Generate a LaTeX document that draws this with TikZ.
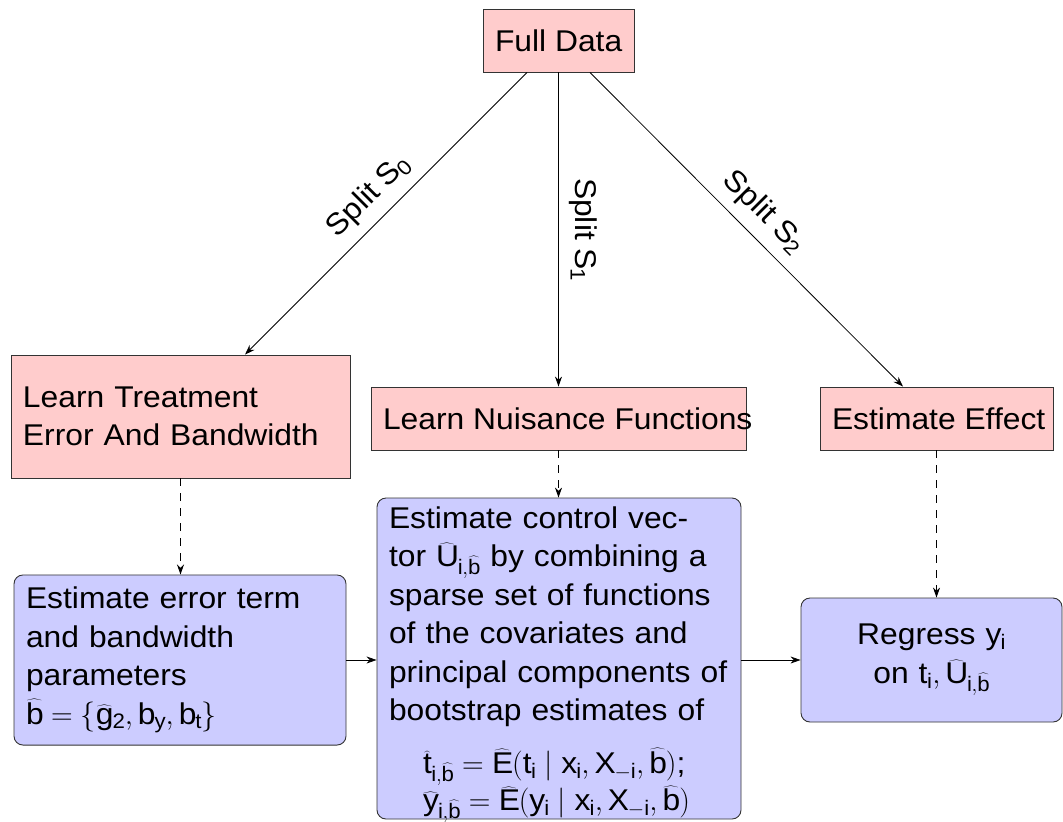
\RequirePackage{fix-cm}
\documentclass[tikz,border=0pt]{standalone}
\usepackage{fontspec}
\setmainfont{Liberation Sans}[FakeStretch=1.06]
\setmathrm{Liberation Sans}[FakeStretch=1.06]
\usetikzlibrary{arrows.meta}

% upright letters in formulas, and the hat over them
\newcommand\rv[1]{\mathrm{#1}}
\newcommand\hv[1]{\widehat{\rv{#1}}}
\newcommand\bigfont{\fontsize{30}{38.5}\selectfont}
% one line of text, left aligned in a box of fixed width
\newcommand\oneline[2]{\makebox[#1][l]{#2}}

\tikzset{
  box/.style={rectangle, draw=black!80, line width=0.9pt, inner sep=12pt,
    font=\bigfont, align=left},
  pinkbox/.style={box, fill=red!20},
  bluebox/.style={box, fill=blue!20, rounded corners=9pt},
  arr/.style={-{Stealth[length=10pt,width=7pt]}, line width=0.8pt},
  dasharr/.style={arr, dash pattern=on 8pt off 7pt},
  lbl/.style={font=\bigfont, inner sep=10pt, sloped, above}
}

\begin{document}
\begin{tikzpicture}[x=1pt, y=-1pt]
\useasboundingbox (0,0) rectangle (1063,822);

% top row
\node[pinkbox, minimum height=63pt]
  (fd) at (558.5,40.5) {\oneline{127pt}{Full Data}};

% middle row
\node[pinkbox, text width=315pt, minimum width=339pt, minimum height=123pt]
  (lt) at (180.5,416.5) {Learn Treatment\\Error And Bandwidth};
\node[pinkbox, minimum height=63pt]
  (ln) at (558.5,418.5) {\oneline{351pt}{Learn Nuisance Functions}};
\node[pinkbox, minimum height=63pt]
  (ee) at (936.5,418.5) {\oneline{209pt}{Estimate Effect}};

% bottom row
\node[bluebox, text width=308pt, minimum width=332pt, minimum height=166pt]
  (be) at (180,660) {Estimate error term\\and bandwidth\\parameters\\
  $\hv{b} = \{\hv{g}_{\rv{2}}, \rv{b}_{\rv{y}}, \rv{b}_{\rv{t}}\}$};
\node[bluebox, inner ysep=6pt, text width=340pt, minimum width=364pt, minimum height=321pt]
  (cv) at (559,658.5) {Estimate control vec-\\
  tor $\hv{U}_{\rv{i},\hv{b}}$ by combining a\\
  sparse set of functions\\
  of the covariates and\\
  principal components of\\
  bootstrap estimates of\\[14pt]
  \hspace*{34pt}$\hv{t}_{\rv{i},\hv{b}} = \hv{E}(\rv{t}_{\rv{i}} \mid \rv{x}_{\rv{i}}, \rv{X}_{-\rv{i}}, \hv{b})$;\\[-1pt]
  \hspace*{34pt}\smash{$\hv{y}_{\rv{i},\hv{b}} = \hv{E}(\rv{y}_{\rv{i}} \mid \rv{x}_{\rv{i}}, \rv{X}_{-\rv{i}}, \hv{b})$}};
\node[bluebox, align=center, text width=237pt, minimum width=261pt, minimum height=124pt]
  (rg) at (931.5,660) {Regress $\rv{y}_{\rv{i}}$\\on $\rv{t}_{\rv{i}}, \hv{U}_{\rv{i},\hv{b}}$};

% splits of the full data
\draw[arr] ([xshift=-31.5pt]fd.south) -- node[lbl] {Split $\rv{S}_{\rv{0}}$} ([xshift=64.5pt]lt.north);
\draw[arr] (fd.south) -- node[lbl] {Split $\rv{S}_{\rv{1}}$} (fd.south |- ln.north);
\draw[arr] ([xshift=31.5pt]fd.south) -- node[lbl] {Split $\rv{S}_{\rv{2}}$} ([xshift=-33.5pt]ee.north);

% from each learning step to its estimate
\draw[dasharr] (lt.south) -- (lt.south |- be.north);
\draw[dasharr] (ln.south) -- (ln.south |- cv.north);
\draw[dasharr] (ee.south) -- (ee.south |- rg.north);

% estimates feed forward
\draw[arr] (be.east) -- (be.east -| cv.west);
\draw[arr] (cv.east |- rg.west) -- (rg.west);
\end{tikzpicture}
\end{document}
